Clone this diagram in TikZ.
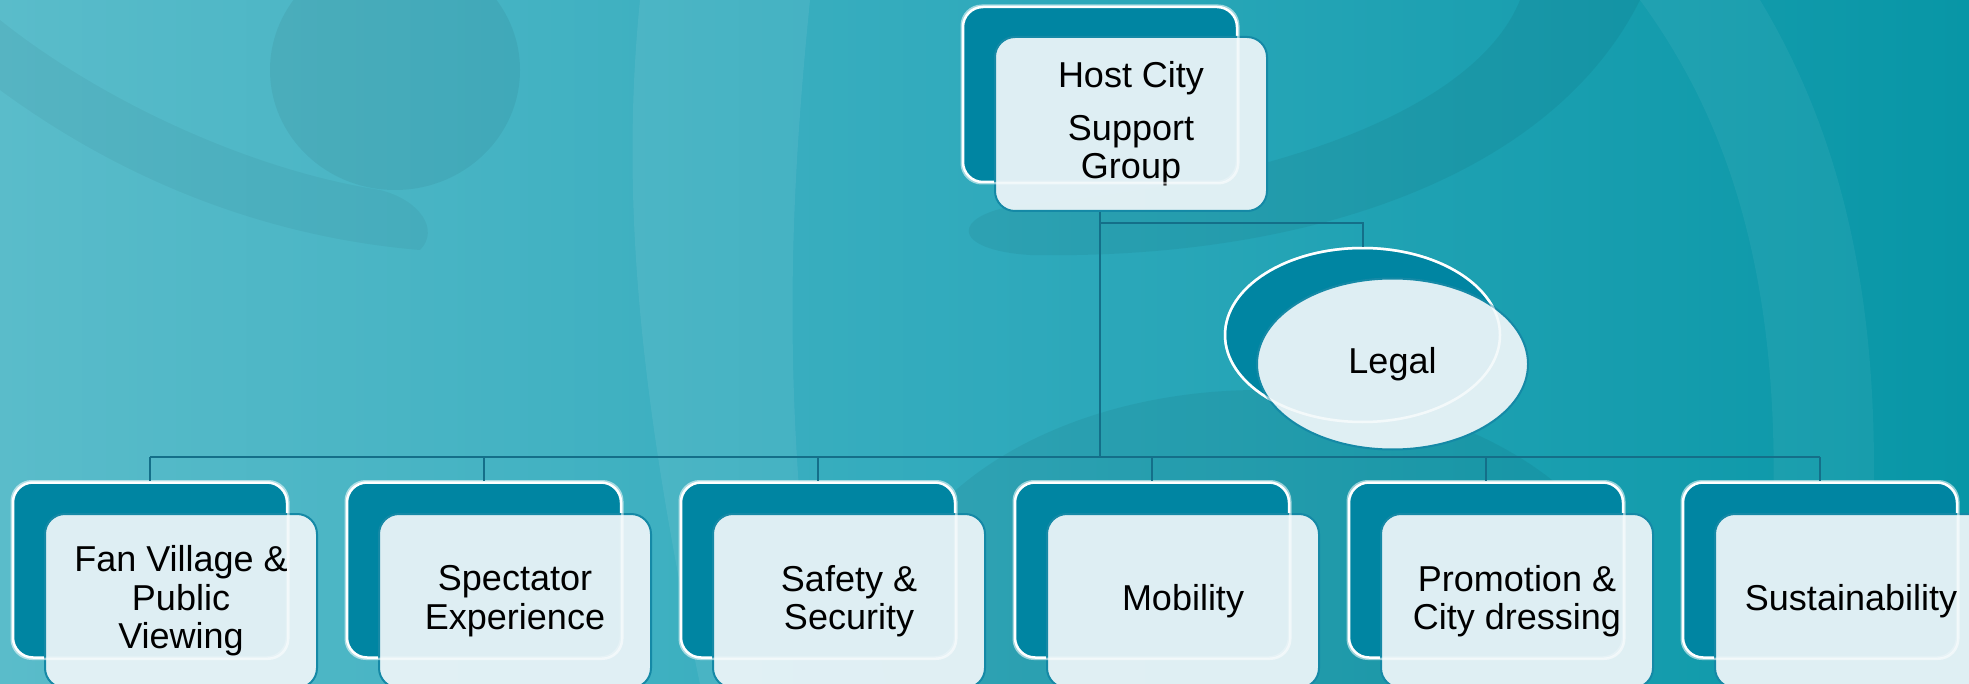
\documentclass[tikz,border=0pt]{standalone}
\usepackage{fontspec}
\setmainfont{Liberation Sans}
\usetikzlibrary{shapes.geometric}
\definecolor{bgl}{HTML}{5ABCCA}
\definecolor{bgm}{HTML}{30AABC}
\definecolor{bgr}{HTML}{0896A6}
\definecolor{backteal}{HTML}{0085A2}
\definecolor{frontfill}{HTML}{E6F2F6}
\definecolor{frontedge}{HTML}{1589A6}
\definecolor{conn}{HTML}{146F89}
\tikzset{
  backbox/.style={rectangle, rounded corners=20pt, fill=backteal, draw=white, line width=2.5pt,
    minimum width=274pt, minimum height=175pt, inner sep=0pt},
  frontbox/.style={rectangle, rounded corners=20pt, fill=frontfill, fill opacity=0.97, text opacity=1,
    draw=frontedge, line width=2pt, minimum width=272pt, minimum height=174pt, inner sep=0pt,
    align=center, font=\fontsize{36pt}{38.5pt}\selectfont},
  backell/.style={ellipse, fill=backteal, draw=white, line width=2.5pt,
    minimum width=275pt, minimum height=174pt, inner sep=0pt},
  frontell/.style={ellipse, fill=frontfill, fill opacity=0.97, text opacity=1,
    draw=frontedge, line width=2pt, minimum width=271pt, minimum height=171pt, inner sep=0pt,
    align=center, font=\fontsize{36pt}{38.5pt}\selectfont},
  ghostrect/.style={draw=white, draw opacity=0.55, line width=2.5pt, rounded corners=20pt},
  ghostell/.style={draw=white, draw opacity=0.55, line width=2.5pt},
  link/.style={draw=conn, line width=2pt}
}
\begin{document}
\begin{tikzpicture}[x=1pt,y=-1pt]
\useasboundingbox (0,0) rectangle (1969,684);
\begin{scope}
\clip (0,0) rectangle (1969,684);
\shade[left color=bgl, right color=bgr, middle color=bgm] (0,0) rectangle (1969,684);
% background swooshes
\fill[black, opacity=0.05] (395,70) ellipse (125 and 120);
\fill[black, opacity=0.04] (0,90) .. controls (150,200) and (300,240) .. (420,250)
   .. controls (440,230) and (420,200) .. (380,190) .. controls (250,170) and (100,100) .. (0,20) -- cycle;
\fill[white, opacity=0.07] (640,0) .. controls (620,200) and (640,400) .. (700,684)
   -- (820,684) .. controls (780,400) and (790,200) .. (810,0) -- cycle;
\fill[black, opacity=0.05] (1260,640) ellipse (380 and 250);
\fill[black, opacity=0.05] (1640,0) .. controls (1550,180) and (1300,260) .. (1030,255)
   .. controls (950,250) and (950,215) .. (1020,205) .. controls (1300,180) and (1480,100) .. (1520,0) -- cycle;
\fill[white, opacity=0.05] (1640,0) .. controls (1750,150) and (1800,350) .. (1760,684)
   -- (1860,684) .. controls (1900,350) and (1850,150) .. (1760,0) -- cycle;
\end{scope}
% top node
\node[backbox] (hcb) at (1100,94.5) {};
\node[frontbox] (hcf) at (1131,124) {Host City\\[14pt]Support\\Group};
\draw[ghostrect] (hcb.south west) rectangle (hcb.north east);
% legal
\node[backell] (lb) at (1362.5,335) {};
\node[frontell] (lf) at (1392.5,364) {Legal};
\draw[ghostell] (lb.center) ellipse (137.5 and 87);
% bottom nodes
\foreach \i/\t in {1/{Fan Village \&\\Public\\Viewing},2/{Spectator\\Experience},3/{Safety \&\\Security},4/{Mobility},5/{Promotion \&\\City dressing},6/{Sustainability}}{
  \node[backbox] (b\i) at ({150+334*(\i-1)},570) {};
  \node[frontbox] (f\i) at ({181+334*(\i-1)},601) {\t};
  \draw[ghostrect] (b\i.south west) rectangle (b\i.north east);
}
\coordinate (bus) at (0,457);
\coordinate (lbr) at (0,223);
\draw[link] (hcb.center |- hcf.south) -- (hcb.center |- bus);
\draw[link] (hcb.center |- lbr) -| (lb.north);
\draw[link] (b1.north |- bus) -- (b6.north |- bus);
\foreach \i in {1,...,6}{
  \draw[link] (b\i.north |- bus) -- (b\i.north);
}
\end{tikzpicture}
\end{document}
